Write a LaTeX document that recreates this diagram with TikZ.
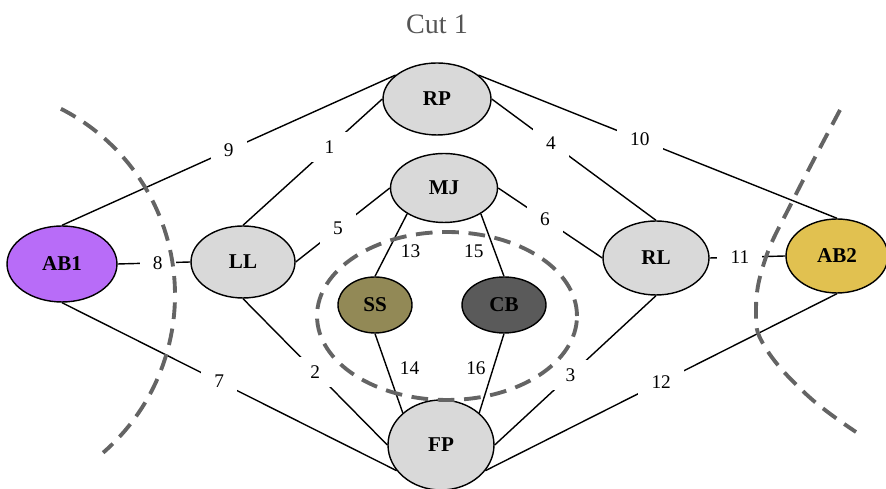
\documentclass[tikz,border=0pt]{standalone}
\usepackage{fontspec}
\setmainfont{Liberation Serif}
\usepackage{xcolor}
\usepackage{tikz}
\usetikzlibrary{shapes.geometric, positioning}
\definecolor{nodegray}{RGB}{217,217,217}
\definecolor{abpurple}{RGB}{184,108,248}
\definecolor{abgold}{RGB}{225,193,80}
\definecolor{ssolive}{RGB}{146,137,86}
\definecolor{cbgray}{RGB}{90,90,90}
\definecolor{cutgray}{RGB}{100,100,100}
\definecolor{titlegray}{RGB}{85,85,85}
\tikzset{
  state/.style={ellipse, draw=black, line width=0.8pt, fill=nodegray, inner sep=0pt,
    font=\fontsize{12}{14}\selectfont\bfseries},
  esize/.style 2 args={minimum width=#1, minimum height=#2},
  link/.style={draw, line width=0.8pt},
  wlabel/.style={fill=white, inner xsep=7.5pt, inner ysep=5pt, font=\fontsize{11}{13}\selectfont},
  slabel/.style={inner sep=0pt, font=\fontsize{11}{13}\selectfont},
  cut/.style={draw=cutgray, line width=2.2pt, dash pattern=on 9.5pt off 5.5pt}
}

\begin{document}
\begin{tikzpicture}[x=0.02cm, y=0.02cm]
  \useasboundingbox (0,0) rectangle (886,489);

  % ═══════════════════════════════════════════════════════════════
  % TITLE AND NODES
  % ═══════════════════════════════════════════════════════════════
  \node[font=\fontsize{16}{19}\selectfont, color=titlegray] (title) at (437,465) {Cut 1};

  \node[state, esize={2.16cm}{1.44cm}] (RP) at (437,390) {RP};
  \node[state, esize={2.14cm}{1.38cm}] (MJ) at (444,301) {MJ};
  \node[state, esize={2.08cm}{1.44cm}] (LL) at (243,227) {LL};
  \node[state, esize={2.12cm}{1.48cm}] (RL) at (656,231) {RL};
  \node[state, fill=abpurple, esize={2.20cm}{1.52cm}] (AB1) at (62,225) {AB1};
  \node[state, fill=abgold, esize={2.04cm}{1.48cm}] (AB2) at (837,233) {AB2};
  \node[state, fill=ssolive, esize={1.48cm}{1.12cm}] (SS) at (375,184) {SS};
  \node[state, fill=cbgray, esize={1.68cm}{1.12cm}] (CB) at (504,184) {CB};
  \node[state, esize={2.12cm}{1.80cm}] (FP) at (441,44) {FP};

  % ═══════════════════════════════════════════════════════════════
  % LINKS
  % ═══════════════════════════════════════════════════════════════
  \draw[link] (AB1.north) -- node[wlabel, pos=0.5] (l9) {9} (RP.150);
  \draw[link] (AB1.east) -- node[wlabel, pos=0.55] (l8) {8} (LL.west);
  \draw[link] (AB1.south) -- node[wlabel, pos=0.47] (l7) {7} (FP.210);
  \draw[link] (LL.north) -- node[wlabel, pos=0.62] (l1) {1} (RP.west);
  \draw[link] (LL.south) -- node[wlabel, pos=0.5] (l2) {2} (FP.west);
  \draw[link] (LL.east) -- node[wlabel, pos=0.45] (l5) {5} (MJ.west);
  \draw[link] (RP.east) -- node[wlabel, pos=0.36] (l4) {4} (RL.north);
  \draw[link] (RP.30) -- node[wlabel, pos=0.45] (l10) {10} (AB2.north);
  \draw[link] (MJ.east) -- node[wlabel, pos=0.45] (l6) {6} (RL.west);
  \draw[link] (RL.east) -- node[wlabel, pos=0.4] (l11) {11} (AB2.west);
  \draw[link] (RL.south) -- node[wlabel, pos=0.53] (l3) {3} (FP.east);
  \draw[link] (AB2.south) -- node[wlabel, pos=0.5] (l12) {12} (FP.330);

  % inner links, labels beside the line
  \draw[link] (MJ.215) -- node[slabel, pos=0.6, right=7pt] (l13) {13} (SS.north);
  \draw[link] (MJ.325) -- node[slabel, pos=0.6, left=6pt] (l15) {15} (CB.north);
  \draw[link] (SS.south) -- node[slabel, pos=0.43, right=7pt] (l14) {14} (FP.140);
  \draw[link] (CB.south) -- node[slabel, pos=0.43, left=4pt] (l16) {16} (FP.40);

  % ═══════════════════════════════════════════════════════════════
  % CUTS
  % ═══════════════════════════════════════════════════════════════
  \draw[cut] (447,173) ellipse [x radius=2.6cm, y radius=1.68cm];
  \draw[cut] (60.9,380.2) arc[start angle=63, end angle=-49, radius=4.18cm];
  \draw[cut] plot[smooth, tension=0.7] coordinates {(840,379) (792,287) (765,229) (756,179) (765,142) (807,94) (856,57)};
\end{tikzpicture}
\end{document}
